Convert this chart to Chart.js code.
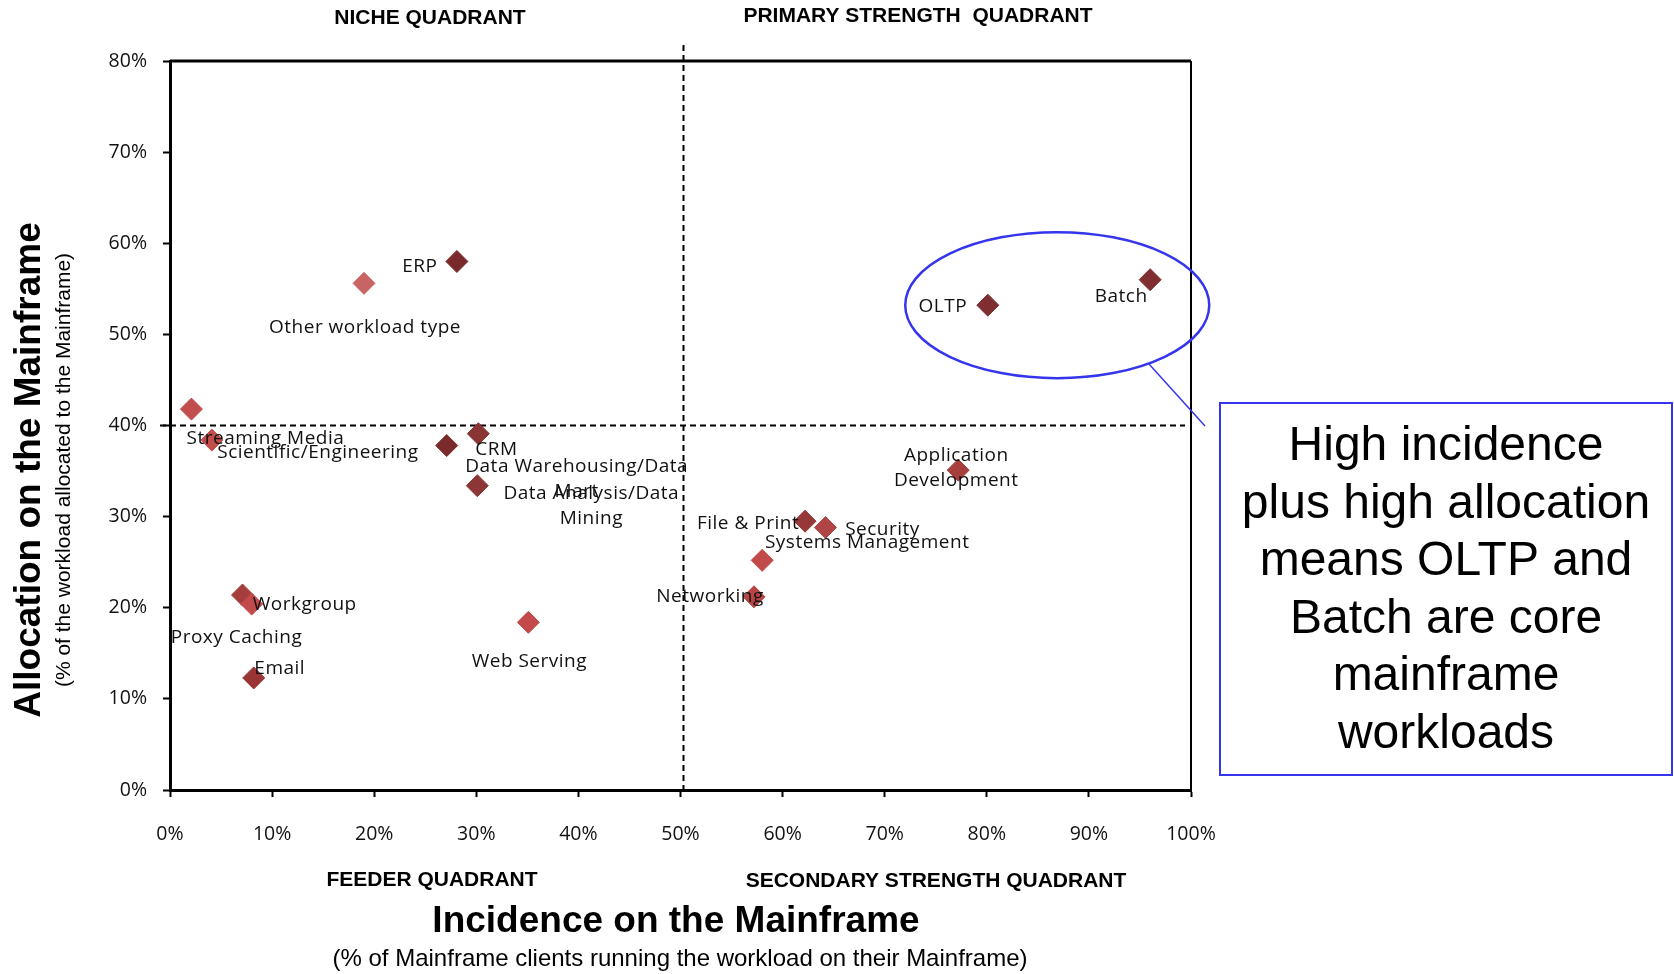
<!DOCTYPE html>
<html>
<head>
<meta charset="utf-8">
<script src="https://cdn.jsdelivr.net/npm/chart.js@4.4.0/dist/chart.umd.min.js"></script>
<style>
html,body{margin:0;padding:0;background:#fff;}
#wrap{width:1674px;height:974px;position:relative;}
</style>
</head>
<body>
<div id="wrap"><canvas id="c" width="1674" height="974"></canvas></div>
<script>
// ---- data ----
const workloads = ["ERP","Other workload type","Streaming Media","Scientific/Engineering","Data Warehousing/Data Mart","CRM","Data Analysis/Data Mining","OLTP","Batch","Application Development","File & Print","Security","Systems Management","Networking","Proxy Caching","Workgroup","Email","Web Serving"];
const incidence = [28.1,19.0,2.1,4.1,27.1,30.2,30.1,80.1,96.0,77.2,62.2,64.2,58.0,57.2,7.1,8.0,8.2,35.1];
const allocation = [58.0,55.6,41.8,38.4,37.8,39.1,33.4,53.2,56.0,35.1,29.5,28.8,25.2,21.2,21.4,20.4,12.3,18.4];
const xTicks = [0,10,20,30,40,50,60,70,80,90,100];
const yTicks = [0,10,20,30,40,50,60,70,80];
const quadrantTitles = ["NICHE QUADRANT","PRIMARY STRENGTH  QUADRANT","FEEDER QUADRANT","SECONDARY STRENGTH QUADRANT"];
const calloutLines = ["High incidence","plus high allocation","means OLTP and","Batch are core","mainframe","workloads"];

// ---- styles (kept separate from data) ----
const pointColors = ["#7a2a2a","#c96464","#c24d4d","#c24d4d","#7a2a2a","#8a3434","#8c3636","#7f2f2f","#7f2f2f","#a83f3f","#973838","#b04545","#c24a4a","#b84444","#a63d3d","#c24a4a","#9a3535","#c24a4a"];
// label offsets (px, relative to point centre) and line splits
const labelLayout = [
  {dx:-37,dy:5,lines:["ERP"]},
  {dx:1,dy:44,lines:["Other workload type"]},
  {dx:74,dy:29,lines:["Streaming Media"]},
  {dx:106,dy:13,lines:["Scientific/Engineering"]},
  {dx:130,dy:21,lines:["Data Warehousing/Data","Mart"]},
  {dx:18,dy:16,lines:["CRM"]},
  {dx:114,dy:8,lines:["Data Analysis/Data","Mining"]},
  {dx:-45,dy:1,lines:["OLTP"]},
  {dx:-29,dy:17,lines:["Batch"]},
  {dx:-2,dy:-15,lines:["Application","Development"]},
  {dx:-57,dy:2,lines:["File & Print"]},
  {dx:57,dy:2,lines:["Security"]},
  {dx:105,dy:-18,lines:["Systems Management"]},
  {dx:-44,dy:0,lines:["Networking"]},
  {dx:-6,dy:43,lines:["Proxy Caching"]},
  {dx:53,dy:0,lines:["Workgroup"]},
  {dx:26,dy:-9,lines:["Email"]},
  {dx:1,dy:39,lines:["Web Serving"]}
];
const LABEL_FONT = "19px 'Open Sans', 'Noto Sans', sans-serif";
const BLUE = "#3535ee";

const points = incidence.map((x,i)=>({x:x,y:allocation[i]}));

const overlay = {
  id:'overlay',
  beforeDatasetsDraw(chart){
    const ctx = chart.ctx, ca = chart.chartArea;
    const xs = chart.scales.x, ys = chart.scales.y;
    ctx.save();
    ctx.strokeStyle = "#000";
    ctx.lineWidth = 3;
    ctx.beginPath(); ctx.moveTo(ca.left, ca.top); ctx.lineTo(ca.right, ca.top); ctx.stroke();
    ctx.lineWidth = 2;
    ctx.beginPath(); ctx.moveTo(ca.right, ca.top); ctx.lineTo(ca.right, ca.bottom); ctx.stroke();
    ctx.setLineDash([6,4]);
    ctx.lineWidth = 2;
    const y40 = ys.getPixelForValue(40);
    ctx.beginPath(); ctx.moveTo(ca.left-10, y40); ctx.lineTo(ca.right-6, y40); ctx.stroke();
    const x50 = xs.getPixelForValue(50) + 3;
    ctx.beginPath(); ctx.moveTo(x50, ca.top-16); ctx.lineTo(x50, ca.bottom); ctx.stroke();
    ctx.setLineDash([]);
    ctx.restore();
  },
  afterDatasetsDraw(chart){
    const ctx = chart.ctx, ca = chart.chartArea;
    const xs = chart.scales.x, ys = chart.scales.y;
    ctx.save();
    ctx.fillStyle = "#111";
    ctx.font = LABEL_FONT;
    ctx.letterSpacing = "0.5px";
    ctx.textAlign = "center";
    ctx.textBaseline = "middle";
    points.forEach((p,i)=>{
      const px = xs.getPixelForValue(p.x), py = ys.getPixelForValue(p.y);
      const L = labelLayout[i];
      L.lines.forEach((t,k)=>{ ctx.fillText(t, px+L.dx, py+L.dy+k*25); });
    });
    ctx.letterSpacing = "0px";
    const ecx = xs.getPixelForValue(86.9), ecy = ys.getPixelForValue(53.2);
    ctx.strokeStyle = BLUE; ctx.lineWidth = 2.5;
    ctx.beginPath(); ctx.ellipse(ecx, ecy, 152, 73, 0, 0, Math.PI*2); ctx.stroke();
    ctx.lineWidth = 1.5;
    ctx.beginPath(); ctx.moveTo(1149, 364); ctx.lineTo(1205, 426); ctx.stroke();
    ctx.lineWidth = 2;
    ctx.strokeRect(1220, 403, 452, 372);
    ctx.fillStyle = "#000";
    ctx.font = "48px Arial, 'Liberation Sans', sans-serif";
    calloutLines.forEach((t,k)=>{ ctx.fillText(t, 1446, 447+k*57.5); });
    ctx.font = "bold 21px Arial, 'Liberation Sans', sans-serif";
    ctx.fillText(quadrantTitles[0], 430, 18);
    ctx.fillText(quadrantTitles[1], 918, 16);
    ctx.fillText(quadrantTitles[2], 432, 880);
    ctx.fillText(quadrantTitles[3], 936, 881);
    ctx.font = "bold 37px Arial, 'Liberation Sans', sans-serif";
    ctx.fillText("Incidence on the Mainframe", 676, 922);
    ctx.font = "24px Arial, 'Liberation Sans', sans-serif";
    ctx.fillText("(% of Mainframe clients running the workload on their Mainframe)", 680, 959);
    ctx.save();
    ctx.translate(30, 470); ctx.rotate(-Math.PI/2);
    ctx.font = "bold 37px Arial, 'Liberation Sans', sans-serif";
    ctx.fillText("Allocation on the Mainframe", 0, 0);
    ctx.restore();
    ctx.save();
    ctx.translate(64, 470); ctx.rotate(-Math.PI/2);
    ctx.font = "21px Arial, 'Liberation Sans', sans-serif";
    ctx.fillText("(% of the workload allocated to the Mainframe)", 0, 0);
    ctx.restore();
    ctx.restore();
  }
};

new Chart(document.getElementById('c'), {
  type:'scatter',
  data:{datasets:[{
    label:'Workloads',
    data:points,
    pointStyle:'rectRot',
    pointRadius:11,
    pointHoverRadius:11,
    pointBackgroundColor:pointColors,
    pointBorderColor:pointColors,
    pointBorderWidth:1
  }]},
  options:{
    responsive:false,
    animation:false,
    devicePixelRatio:1,
    layout:{padding:{left:0,top:61,right:483,bottom:0}},
    plugins:{legend:{display:false},tooltip:{enabled:false}},
    scales:{
      x:{
        type:'linear', min:0, max:100,
        afterFit(s){ s.height = 184; },
        afterBuildTicks(s){ s.ticks = xTicks.map(v=>({value:v})); },
        ticks:{ callback:v=>v+'%', padding:26, color:'#111', font:{family:"'Open Sans','Noto Sans',sans-serif", size:19.5}, maxRotation:0 },
        grid:{ drawOnChartArea:false, drawTicks:true, tickLength:7, color:'#000', tickWidth:2 },
        border:{ display:true, color:'#000', width:3 }
      },
      y:{
        type:'linear', min:0, max:80,
        afterFit(s){ s.width = 170; },
        afterBuildTicks(s){ s.ticks = yTicks.map(v=>({value:v})); },
        ticks:{ callback:v=>v+'%', padding:16, color:'#111', font:{family:"'Open Sans','Noto Sans',sans-serif", size:19.5} },
        grid:{ drawOnChartArea:false, drawTicks:true, tickLength:7, color:'#000', tickWidth:2 },
        border:{ display:true, color:'#000', width:3 }
      }
    }
  },
  plugins:[overlay]
});
</script>
</body>
</html>
